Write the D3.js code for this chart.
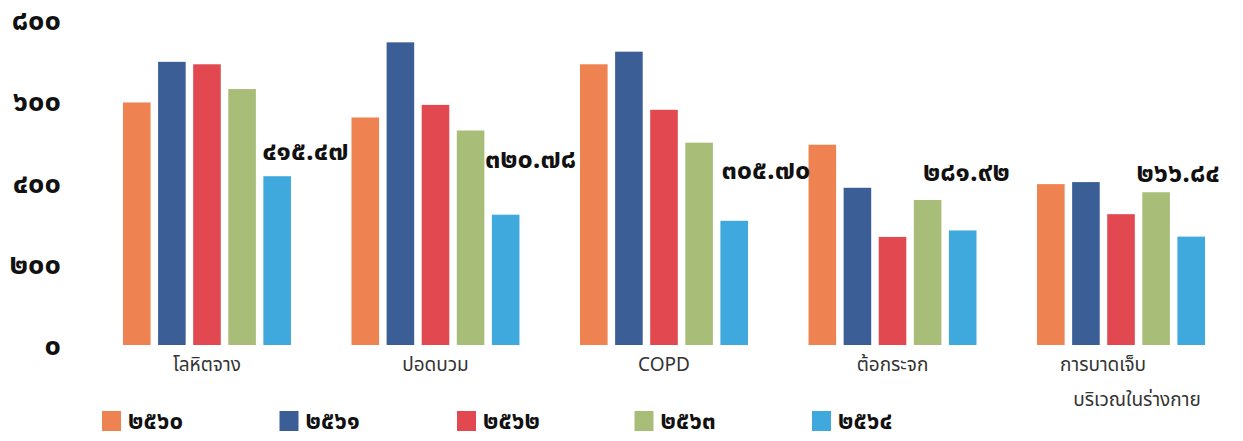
<!DOCTYPE html>
<html>
<head>
<meta charset="utf-8">
<script src="https://cdn.jsdelivr.net/npm/d3@7"></script>
<style>
  body { margin: 0; background: #fff; }
  .thai { font-family: "Noto Sans Thai", "Noto Sans", "DejaVu Sans", sans-serif; }
</style>
</head>
<body>
<div id="chart"></div>
<script>
// Data
var categories = ["โลหิตจาง", "ปอดบวม", "COPD", "ต้อกระจก", "การบาดเจ็บ"];
var categorySub = ["", "", "", "", "บริเวณในร่างกาย"];
var years = ["๒๕๖๐", "๒๕๖๑", "๒๕๖๒", "๒๕๖๓", "๒๕๖๔"];
var v2560 = [597, 560, 691, 493, 396];
var v2561 = [697, 745, 722, 387, 401];
var v2562 = [691, 591, 579, 266, 322];
var v2563 = [630, 528, 498, 357, 376];
var v2564 = [415.47, 320.78, 305.70, 281.92, 266.84];
var labels2564 = ["๔๑๕.๔๗", "๓๒๐.๗๘", "๓๐๕.๗๐", "๒๘๑.๙๒", "๒๖๖.๘๔"];
var yTicks = [0, 200, 400, 600, 800];
var yTickLabels = ["๐", "๒๐๐", "๔๐๐", "๖๐๐", "๘๐๐"];

var seriesValues = [v2560, v2561, v2562, v2563, v2564];
var colors = ["#ee8250", "#3b5e96", "#e2484f", "#a8bd78", "#3fa8dc"];

// SVG area
var svgWidth = 1243;
var svgHeight = 441;

var svg = d3.select("#chart")
  .append("svg")
  .attr("width", svgWidth)
  .attr("height", svgHeight);

// Scales
var x0 = d3.scaleBand()
  .domain(categories)
  .range([123, 1205])
  .paddingInner(0.265)
  .paddingOuter(0);

var x1 = d3.scaleBand()
  .domain(years)
  .range([0, x0.bandwidth()])
  .paddingInner(0.214);

var yScale = d3.scaleLinear()
  .domain([0, 800])
  .range([345, 20]);

// Y axis labels (no line, no ticks)
svg.append("g").selectAll("text")
  .data(yTicks)
  .enter()
  .append("text")
  .attr("class", "thai")
  .attr("x", 61)
  .attr("y", d => yScale(d) + 10)
  .attr("text-anchor", "end")
  .attr("font-size", "29px")
  .attr("font-weight", 700)
  .attr("fill", "#111")
  .text((d, i) => yTickLabels[i]);

// Bars
var groups = svg.selectAll(".group")
  .data(categories)
  .enter()
  .append("g")
  .attr("class", "group")
  .attr("transform", d => `translate(${x0(d)}, 0)`);

groups.selectAll("rect")
  .data((d, i) => years.map((yr, j) => ({ year: yr, value: seriesValues[j][i], j: j })))
  .enter()
  .append("rect")
  .attr("x", d => x1(d.year))
  .attr("y", d => yScale(d.value))
  .attr("width", x1.bandwidth())
  .attr("height", d => yScale(0) - yScale(d.value))
  .attr("fill", d => colors[d.j]);

// Category labels
var catNudge = [0, 0, 0, 0, -18];
svg.append("g").selectAll("text")
  .data(categories)
  .enter()
  .append("text")
  .attr("class", "thai")
  .attr("x", (d, i) => x0(d) + x0.bandwidth() / 2 + catNudge[i])
  .attr("y", 371)
  .attr("text-anchor", "middle")
  .attr("font-size", "19px")
  .attr("fill", "#333")
  .text(d => d);

svg.append("g").selectAll("text")
  .data(categories)
  .enter()
  .append("text")
  .attr("class", "thai")
  .attr("x", (d, i) => x0(d) + x0.bandwidth() / 2 + 16)
  .attr("y", 406)
  .attr("text-anchor", "middle")
  .attr("font-size", "19px")
  .attr("fill", "#333")
  .text((d, i) => categorySub[i]);

// Value labels for 2564
var labelDx = [-1, -7, 1, -26, -41];
var labelDy = [-16, -47, -42, -49, -55];
svg.append("g").selectAll("text")
  .data(v2564)
  .enter()
  .append("text")
  .attr("class", "thai")
  .attr("x", (d, i) => x0(categories[i]) + x1(years[4]) + labelDx[i])
  .attr("y", (d, i) => yScale(d) + labelDy[i])
  .attr("font-size", "27px")
  .attr("font-weight", 700)
  .attr("fill", "#111")
  .text((d, i) => labels2564[i]);

// Legend
var legend = svg.append("g").selectAll("g")
  .data(years)
  .enter()
  .append("g")
  .attr("transform", (d, i) => `translate(${102 + i * 177.5}, 411)`);

legend.append("rect")
  .attr("width", 19)
  .attr("height", 20)
  .attr("fill", (d, i) => colors[i]);

legend.append("text")
  .attr("class", "thai")
  .attr("x", 26)
  .attr("y", 18)
  .attr("font-size", "24px")
  .attr("font-weight", 700)
  .attr("fill", "#111")
  .text(d => d);
</script>
</body>
</html>
